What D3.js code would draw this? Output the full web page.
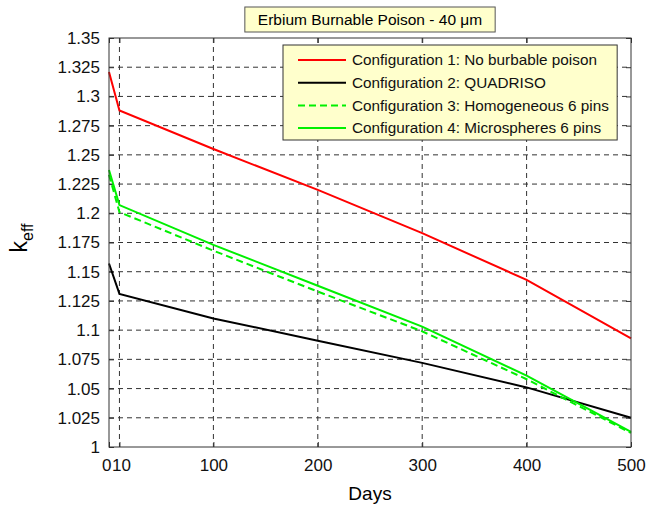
<!DOCTYPE html>
<html>
<head>
<meta charset="utf-8">
<script src="https://cdn.jsdelivr.net/npm/d3@7"></script>
<style>
  body { margin: 0; background: #fff; }
  svg { display: block; font-family: 'Liberation Sans', Arial, sans-serif; }
</style>
</head>
<body>
<script>
// data
const days = [0, 10, 100, 200, 300, 400, 500];
const config1 = [1.321, 1.288, 1.255, 1.220, 1.183, 1.143, 1.093];
const config2 = [1.157, 1.131, 1.110, 1.091, 1.072, 1.051, 1.025];
const config3 = [1.233, 1.201, 1.168, 1.133, 1.099, 1.058, 1.012];
const config4 = [1.237, 1.207, 1.173, 1.138, 1.103, 1.061, 1.013];
const seriesNames = [
  'Configuration 1: No burbable poison',
  'Configuration 2: QUADRISO',
  'Configuration 3: Homogeneous 6 pins',
  'Configuration 4: Microspheres 6 pins',
];
const xTicks = [0, 10, 100, 200, 300, 400, 500];
const yTicks = [1, 1.025, 1.05, 1.075, 1.1, 1.125, 1.15, 1.175, 1.2, 1.225, 1.25, 1.275, 1.3, 1.325, 1.35];
const yTickLabels = ['1', '1.025', '1.05', '1.075', '1.1', '1.125', '1.15', '1.175', '1.2', '1.225', '1.25', '1.275', '1.3', '1.325', '1.35'];
const titleText = 'Erbium Burnable Poison - 40 \u03bcm';

const w = 646;
const h = 507;
const margin = { left: 109, top: 38, right: 15, bottom: 60 };
const pw = w - margin.left - margin.right;
const ph = h - margin.top - margin.bottom;

const series = [
  { name: seriesNames[0], values: config1, color: '#ff0000', dash: null },
  { name: seriesNames[1], values: config2, color: '#000000', dash: null },
  { name: seriesNames[2], values: config3, color: '#00f000', dash: '7,4' },
  { name: seriesNames[3], values: config4, color: '#00f000', dash: null },
];

const xScale = d3.scaleLinear().domain([0, 500]).range([0, pw]);
const yScale = d3.scaleLinear().domain([1, 1.35]).range([ph, 0]);

const svg = d3.select('body')
  .append('svg')
  .attr('width', w)
  .attr('height', h);

const g = svg.append('g')
  .attr('transform', `translate(${margin.left}, ${margin.top})`);

// grid
g.selectAll('.vgrid')
  .data(xTicks.filter((d) => d > 0 && d < 500))
  .enter()
  .append('line')
  .attr('x1', (d) => xScale(d))
  .attr('x2', (d) => xScale(d))
  .attr('y1', 0)
  .attr('y2', ph)
  .attr('stroke', '#333')
  .attr('stroke-dasharray', '5,4');
g.selectAll('.hgrid')
  .data(yTicks.filter((d) => d > 1 && d < 1.35))
  .enter()
  .append('line')
  .attr('x1', 0)
  .attr('x2', pw)
  .attr('y1', (d) => yScale(d))
  .attr('y2', (d) => yScale(d))
  .attr('stroke', '#333')
  .attr('stroke-dasharray', '5,4');

// axes, ticks pointing inward on all four sides
const xAxis = d3.axisBottom(xScale).tickValues(xTicks).tickSizeInner(-5).tickSizeOuter(0).tickPadding(12);
const yAxis = d3.axisLeft(yScale).tickValues(yTicks).tickSizeInner(-5).tickSizeOuter(0).tickPadding(9)
  .tickFormat((d, i) => yTickLabels[i]);

const gx = g.append('g').attr('transform', `translate(0, ${ph})`).call(xAxis);
const gy = g.append('g').call(yAxis);
g.append('g').call(d3.axisTop(xScale).tickValues(xTicks).tickSizeInner(-5).tickSizeOuter(0).tickFormat(''));
g.append('g').attr('transform', `translate(${pw}, 0)`)
  .call(d3.axisRight(yScale).tickValues(yTicks).tickSizeInner(-5).tickSizeOuter(0).tickFormat(''));

g.selectAll('.domain').remove();
g.selectAll('.tick line').attr('stroke', '#333');
g.selectAll('.tick text').attr('font-size', 17).attr('fill', '#111')
  .style('font-family', "'Liberation Sans', Arial, sans-serif");

// "0" and "10" sit next to each other like the original
gx.selectAll('.tick text')
  .filter((d) => d === 0)
  .attr('text-anchor', 'end')
  .attr('x', 2);
gx.selectAll('.tick text')
  .filter((d) => d === 10)
  .attr('text-anchor', 'start')
  .attr('x', -8);

// data lines
const line = d3.line()
  .x((d, i) => xScale(days[i]))
  .y((d) => yScale(d));

g.selectAll('.series')
  .data(series)
  .enter()
  .append('path')
  .attr('d', (d) => line(d.values))
  .attr('fill', 'none')
  .attr('stroke', (d) => d.color)
  .attr('stroke-width', 2)
  .attr('stroke-dasharray', (d) => d.dash);

// box
g.append('rect')
  .attr('x', 0)
  .attr('y', 0)
  .attr('width', pw)
  .attr('height', ph)
  .attr('fill', 'none')
  .attr('stroke', '#333')
  .attr('stroke-width', 1);

// axis labels
svg.append('text')
  .attr('x', margin.left + pw / 2)
  .attr('y', 500)
  .attr('text-anchor', 'middle')
  .attr('font-size', 19)
  .text('Days');

const yl = svg.append('text')
  .attr('transform', `translate(27, 238) rotate(-90)`)
  .attr('text-anchor', 'middle')
  .attr('font-size', 23);
yl.append('tspan').text('k');
yl.append('tspan').attr('font-size', 16).attr('dy', 6).text('eff');

// title box
const title = svg.append('g');
const tText = title.append('text')
  .attr('x', margin.left + pw / 2)
  .attr('y', 25)
  .attr('text-anchor', 'middle')
  .attr('font-size', 15.5)
  .text(titleText);
const tb = tText.node().getBBox();
title.insert('rect', 'text')
  .attr('x', tb.x - 13)
  .attr('y', 7)
  .attr('width', tb.width + 26)
  .attr('height', 25)
  .attr('fill', '#ffffcc')
  .attr('stroke', '#555');

// legend
const leg = svg.append('g');
const legX = 283;
const legY = 45;
const rowH = 22.7;
const legRect = leg.append('rect')
  .attr('x', legX)
  .attr('y', legY)
  .attr('height', 95)
  .attr('fill', '#ffffcc')
  .attr('stroke', '#333');
const rows = leg.selectAll('.row')
  .data(series)
  .enter()
  .append('g')
  .attr('transform', (d, i) => `translate(0, ${legY + 15 + i * rowH})`);
rows.append('line')
  .attr('x1', 298)
  .attr('x2', 346)
  .attr('stroke', (d) => d.color)
  .attr('stroke-width', 2)
  .attr('stroke-dasharray', (d) => d.dash);
rows.append('text')
  .attr('x', 352)
  .attr('dy', '0.35em')
  .attr('font-size', 15.3)
  .attr('fill', '#111')
  .text((d) => d.name);
const maxRight = d3.max(rows.selectAll('text').nodes(), (n) => n.getBBox().x + n.getBBox().width);
legRect.attr('width', maxRight + 8 - legX);
</script>
</body>
</html>
